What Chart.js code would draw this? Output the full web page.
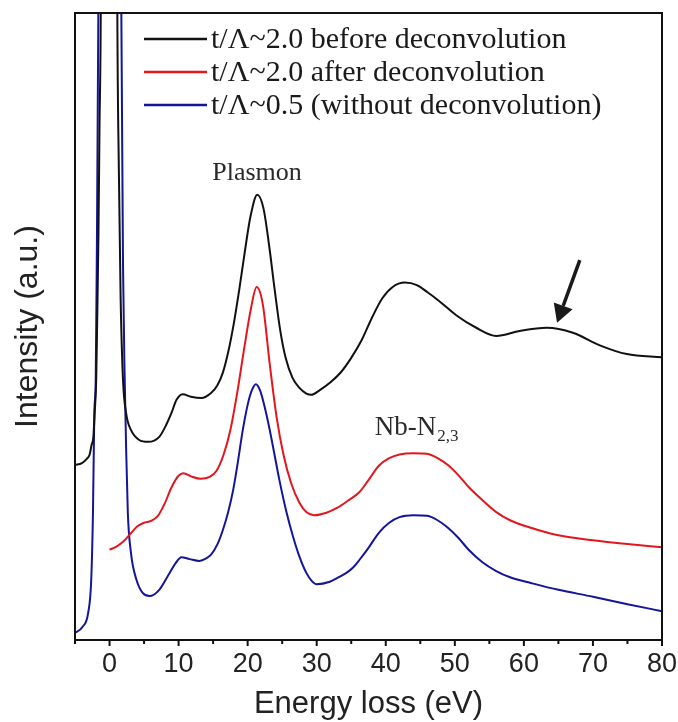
<!DOCTYPE html>
<html>
<head>
<meta charset="utf-8">
<script src="https://cdn.jsdelivr.net/npm/chart.js@4.4.1/dist/chart.umd.min.js"></script>
<style>
  html, body { margin: 0; padding: 0; background: #fff; }
  #wrap { width: 678px; height: 722px; }
</style>
</head>
<body>
<div id="wrap"><canvas id="c" width="678" height="722"></canvas></div>
<script>
// ---- data (energy in eV, intensity in arbitrary units 0..100) ----
const seriesLabels = [
  't/\u039B~2.0 before deconvolution',
  't/\u039B~2.0 after deconvolution',
  't/\u039B~0.5 (without deconvolution)'
];
const blackE = [-5, -4, -3.3, -2.9, -2.6, -2.35, -2.15, -1.93, -1.8, -1.6, -1.45, -1.27, -0.8, 0, 0.7, 1.13, 1.35, 1.6, 1.95, 2.4, 3.1, 4.3, 5.6, 7.2, 8.2, 9, 9.7, 10.6, 11.8, 13.3, 14.7, 15.6, 16.4, 17.2, 18, 18.8, 19.6, 20.4, 21.4, 22.3, 23.1, 23.9, 24.7, 25.5, 26.5, 27.5, 28.5, 29.2, 30.5, 32, 33.5, 35, 36.5, 38, 39.5, 41, 42.75, 44.5, 46, 47.8, 50.2, 53.1, 56, 59.4, 63.3, 67.1, 71, 74.9, 80];
const blackI = [27.9, 28.2, 28.9, 29.5, 31.1, 32.3, 36.2, 41.5, 50, 65, 82, 100, 250, 1000, 250, 100, 75, 55, 41.5, 36.2, 33.5, 31.9, 31.6, 32.4, 34.3, 36.3, 38.3, 39.2, 38.8, 38.6, 39.4, 40.6, 42.6, 46, 50.5, 56, 62, 67.5, 71.0, 68.8, 63, 56, 49.5, 45, 41.8, 40.2, 39.3, 39.1, 39.9, 41.1, 42.7, 45.0, 47.8, 51.4, 54.5, 56.3, 57.0, 56.6, 55.5, 54.0, 51.8, 49.8, 48.5, 49.3, 49.8, 49.0, 47.0, 45.6, 45.1];
const redE = [0, 1, 2, 3, 4, 5, 6, 7, 8, 9, 10, 10.7, 11.8, 13.2, 14.5, 15.5, 16.5, 17.5, 18.5, 19.5, 20.5, 21.3, 22.2, 23.2, 24.2, 25.2, 26.3, 27.5, 28.5, 29.6, 31.4, 33, 34.5, 36.2, 37.5, 39, 40.5, 42, 44, 46, 47.5, 49, 50.5, 52, 54, 56, 58, 61, 65, 70, 75, 80];
const redI = [14.4, 14.9, 15.7, 16.9, 18.1, 18.7, 19.0, 19.8, 21.8, 24.4, 26.2, 26.6, 26.1, 25.7, 26.0, 27.0, 29.5, 33.5, 39.5, 46.5, 53.0, 56.3, 53.5, 44.0, 35.5, 29.5, 25.0, 21.9, 20.4, 19.9, 20.3, 21.1, 22.2, 23.6, 25.5, 27.8, 29.0, 29.6, 29.8, 29.7, 29.0, 27.9, 26.3, 24.4, 22.3, 20.4, 19.1, 17.9, 16.7, 15.9, 15.3, 14.8];
const blueE = [-5, -3.9, -3.1, -2.65, -2.4, -2.2, -2.0, -1.85, -1.62, -1.0, 0, 1.1, 1.71, 1.95, 2.2, 2.4, 2.65, 3.1, 3.9, 4.8, 5.8, 7.2, 8.7, 9.6, 10.4, 11.6, 13, 14, 14.7, 15.6, 16.4, 17.2, 17.9, 18.6, 19.3, 20, 20.6, 21.2, 21.8, 22.5, 23.2, 23.9, 24.6, 25.6, 26.6, 27.5, 28.5, 29.3, 30, 31.9, 33, 34.3, 35.3, 36.2, 37.5, 39, 40.5, 42, 44, 46, 47.5, 49, 50.5, 52, 54, 56, 58, 61, 65, 70, 75, 80];
const blueI = [1.1, 2.1, 4.3, 9.6, 20.3, 36.2, 41.5, 60, 100, 300, 1000, 300, 100, 60, 41.5, 30.8, 20.3, 13.9, 9.6, 7.5, 7.0, 8.0, 10.7, 12.3, 13.2, 12.9, 12.6, 13.0, 13.6, 15.2, 17.5, 20.5, 23.9, 28.5, 33.5, 37.5, 39.8, 40.8, 39.8, 37.0, 33.5, 29.5, 25.5, 20.5, 16.4, 13.3, 10.7, 9.4, 8.9, 9.3, 9.9, 10.7, 11.6, 12.8, 14.7, 17.1, 18.7, 19.6, 19.9, 19.8, 19.1, 17.9, 16.3, 14.4, 12.4, 11.0, 10.0, 9.1, 8.0, 6.9, 5.7, 4.6];
const xTicks = [0, 10, 20, 30, 40, 50, 60, 70, 80];
const xMinorTicks = [-5, 5, 15, 25, 35, 45, 55, 65, 75];

// annotation anchors (data coordinates)
const plasmonAt = [21.36, 74.5];
const nbAt = [38.4, 32.7];
const arrowFrom = [68.1, 60.6];
const arrowTo = [64.8, 50.6];

const colors = ['#111111', '#e3161e', '#15159a'];
const toPts = (E, I) => E.map((e, i) => ({ x: e, y: I[i] }));

const serif = '"Liberation Serif", "Times New Roman", serif';
const sans = '"Liberation Sans", Arial, sans-serif';

const deco = {
  id: 'deco',
  afterDraw(chart) {
    const ctx = chart.ctx, ca = chart.chartArea;
    const xs = chart.scales.x, ys = chart.scales.y;
    ctx.save();
    // frame
    ctx.strokeStyle = '#111';
    ctx.lineWidth = 2;
    ctx.strokeRect(ca.left, ca.top, ca.right - ca.left, ca.bottom - ca.top);
    // ticks on x axis (outward)
    ctx.beginPath();
    xTicks.forEach(v => { const p = xs.getPixelForValue(v); ctx.moveTo(p, ca.bottom); ctx.lineTo(p, ca.bottom + 6); });
    xMinorTicks.forEach(v => { const p = xs.getPixelForValue(v); ctx.moveTo(p, ca.bottom); ctx.lineTo(p, ca.bottom + 4); });
    ctx.stroke();
    // legend
    ctx.font = '30px ' + serif;
    ctx.textBaseline = 'middle';
    ctx.textAlign = 'left';
    chart.data.datasets.forEach((ds, i) => {
      const y = ca.top + 26 + i * 33;
      ctx.strokeStyle = ds.borderColor;
      ctx.lineWidth = 2.5;
      ctx.beginPath(); ctx.moveTo(144, y); ctx.lineTo(207, y); ctx.stroke();
      ctx.fillStyle = '#1a1a1a';
      ctx.fillText(ds.label, 211, y + 1);
    });
    // Plasmon label
    ctx.fillStyle = '#2a2a2a';
    ctx.font = '26px ' + serif;
    ctx.textAlign = 'center';
    ctx.fillText('Plasmon', xs.getPixelForValue(plasmonAt[0]), ys.getPixelForValue(plasmonAt[1]));
    // Nb-N2,3 label
    ctx.textAlign = 'left';
    ctx.textBaseline = 'alphabetic';
    const nx = xs.getPixelForValue(nbAt[0]), ny = ys.getPixelForValue(nbAt[1]);
    ctx.font = '27px ' + serif;
    ctx.fillText('Nb-N', nx, ny);
    const w = ctx.measureText('Nb-N').width;
    ctx.font = '17px ' + serif;
    ctx.fillText('2,3', nx + w + 1, ny + 6);
    // arrow
    const x1 = xs.getPixelForValue(arrowFrom[0]), y1 = ys.getPixelForValue(arrowFrom[1]);
    const x2 = xs.getPixelForValue(arrowTo[0]), y2 = ys.getPixelForValue(arrowTo[1]);
    const ang = Math.atan2(y2 - y1, x2 - x1);
    const hl = 18, hw = 10;
    const bx = x2 - hl * Math.cos(ang), by = y2 - hl * Math.sin(ang);
    ctx.strokeStyle = '#1a1a1a';
    ctx.fillStyle = '#1a1a1a';
    ctx.lineWidth = 3.5;
    ctx.beginPath(); ctx.moveTo(x1, y1); ctx.lineTo(bx, by); ctx.stroke();
    ctx.beginPath();
    ctx.moveTo(x2, y2);
    ctx.lineTo(bx + hw * Math.sin(ang), by - hw * Math.cos(ang));
    ctx.lineTo(bx - hw * Math.sin(ang), by + hw * Math.cos(ang));
    ctx.closePath(); ctx.fill();
    ctx.restore();
  }
};

new Chart(document.getElementById('c'), {
  type: 'line',
  data: {
    datasets: [
      { label: seriesLabels[0], data: toPts(blackE, blackI), borderColor: colors[0] },
      { label: seriesLabels[1], data: toPts(redE, redI), borderColor: colors[1] },
      { label: seriesLabels[2], data: toPts(blueE, blueI), borderColor: colors[2] }
    ]
  },
  options: {
    responsive: false,
    animation: false,
    devicePixelRatio: 1,
    parsing: false,
    layout: { padding: { top: 13, right: 0, left: 0, bottom: 0 } },
    elements: {
      line: { borderWidth: 2, cubicInterpolationMode: 'monotone', fill: false },
      point: { radius: 0, hoverRadius: 0 }
    },
    plugins: { legend: { display: false }, tooltip: { enabled: false } },
    scales: {
      x: {
        type: 'linear', min: -5, max: 80,
        afterBuildTicks: s => { s.ticks = xTicks.map(v => ({ value: v })); },
        ticks: { font: { family: sans, size: 27 }, color: '#222', padding: 8, maxRotation: 0, autoSkip: false },
        grid: { display: true, drawOnChartArea: false, drawTicks: false, color: 'rgba(0,0,0,0)' },
        border: { display: true, color: '#111', width: 2 },
        title: { display: true, text: 'Energy loss (eV)', color: '#222', font: { family: sans, size: 31, lineHeight: 1 }, padding: { top: 0, bottom: 2 } },
        afterFit: s => { s.height = 82; s.paddingRight = 16; s.paddingLeft = 0; }
      },
      y: {
        min: 0, max: 100,
        ticks: { display: false },
        grid: { display: false },
        border: { display: true, color: '#111', width: 2 },
        title: { display: true, text: 'Intensity (a.u.)', color: '#222', font: { family: sans, size: 32, lineHeight: 1 }, padding: { top: 12, bottom: 0 } },
        afterFit: s => { s.width = 75; }
      }
    }
  },
  plugins: [deco]
});
</script>
</body>
</html>
